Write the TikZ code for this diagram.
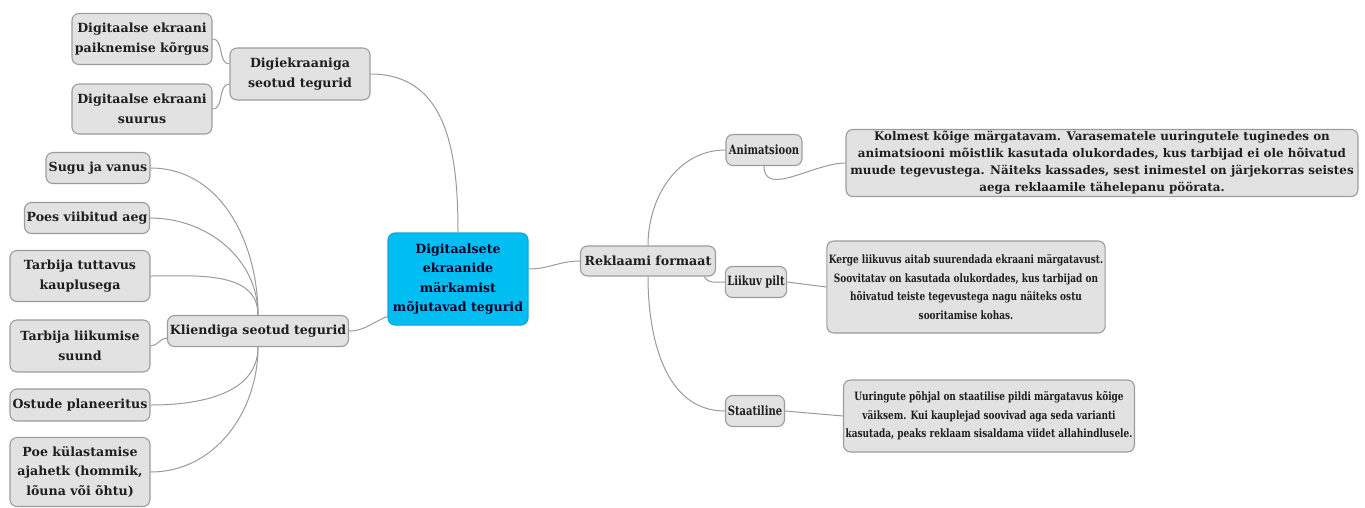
\documentclass[tikz,border=0pt]{standalone}
\usepackage{fontspec}
\setmainfont{DejaVu Serif}
\newfontfamily\narrowfont{DejaVu Serif}[FakeStretch=0.78]
\usetikzlibrary{backgrounds}
\definecolor{boxfill}{HTML}{E2E2E2}
\definecolor{boxline}{HTML}{9C9C9C}
\definecolor{rootfill}{HTML}{00BEF2}
\definecolor{rootline}{HTML}{12A6D6}
\definecolor{inkdark}{HTML}{1E1E1E}
\definecolor{linkgray}{HTML}{9A9A9A}
\tikzset{
  box/.style={draw=boxline,fill=boxfill,rounded corners=7pt,line width=1.1pt,
    align=center,inner sep=2pt,text=inkdark,
    font=\bfseries\fontsize{12.6}{19.5}\selectfont},
  rootbox/.style={box,draw=rootline,fill=rootfill,text=black!85!blue},
  smallbox/.style={box,font=\narrowfont\bfseries\fontsize{12.8}{19}\selectfont},
  notebox/.style={box,font=\narrowfont\bfseries\fontsize{11.5}{18.5}\selectfont},
  widenote/.style={box,font=\bfseries\fontsize{11.9}{17}\selectfont},
  link/.style={draw=linkgray,line width=1pt}
}

\begin{document}
\begin{tikzpicture}[x=1pt,y=-1pt]
\useasboundingbox (0,0) rectangle (1365,507);
% centre
\node [rootbox,minimum width=140,minimum height=92] at (458,279) (root)
  {Digitaalsete\\ekraanide\\märkamist\\mõjutavad tegurid};
% screen factors
\node [box,minimum width=140,minimum height=52] at (300,74) (digi) {Digiekraaniga\\seotud tegurid};
\node [box,minimum width=140,minimum height=51] at (142,39) (paik) {Digitaalse ekraani\\paiknemise kõrgus};
\node [box,minimum width=140,minimum height=50] at (142,109) (suurus) {Digitaalse ekraani\\suurus};
% customer factors
\node [box,minimum width=181,minimum height=31] at (258,331) (klient) {Kliendiga seotud tegurid};
\node [box,minimum width=104,minimum height=31] at (98,168) (sugu) {Sugu ja vanus};
\node [box,minimum width=125,minimum height=31] at (87,218) (poes) {Poes viibitud aeg};
\node [box,minimum width=140,minimum height=51] at (80,276) (tuttav) {Tarbija tuttavus\\kauplusega};
\node [box,minimum width=140,minimum height=52] at (80,346) (liikum) {Tarbija liikumise\\suund};
\node [box,minimum width=140,minimum height=32] at (80,405) (plan) {Ostude planeeritus};
\node [box,minimum width=140,minimum height=69] at (80,472) (aeg) {Poe külastamise\\ajahetk (hommik,\\lõuna või õhtu)};
% ad format
\node [box,minimum width=135,minimum height=30] at (648,261) (rek) {Reklaami formaat};
\node [smallbox,minimum width=76,minimum height=31] at (764,150) (anim) {Animatsioon};
\node [smallbox,minimum width=61,minimum height=31] at (756,282) (liik) {Liikuv pilt};
\node [smallbox,minimum width=59,minimum height=31] at (755,411) (staat) {Staatiline};
\node [widenote,minimum width=512,minimum height=64] at (1102,163) (animtxt)
  {Kolmest kõige märgatavam. Varasematele uuringutele tuginedes on\\
   animatsiooni mõistlik kasutada olukordades, kus tarbijad ei ole hõivatud\\
   muude tegevustega. Näiteks kassades, sest inimestel on järjekorras seistes\\
   aega reklaamile tähelepanu pöörata.};
\node [notebox,minimum width=272,minimum height=92] at (966,287) (liiktxt)
  {Kerge liikuvus aitab suurendada ekraani märgatavust.\\
   Soovitatav on kasutada olukordades, kus tarbijad on\\
   hõivatud teiste tegevustega nagu näiteks ostu\\
   sooritamise kohas.};
\node [notebox,minimum width=288,minimum height=72] at (989,416) (staattxt)
  {Uuringute põhjal on staatilise pildi märgatavus kõige\\
   väiksem. Kui kauplejad soovivad aga seda varianti\\
   kasutada, peaks reklaam sisaldama viidet allahindlusele.};
%
\begin{scope}[on background layer]
\path[link] (root.north) edge [out=90,in=0,looseness=1.1] (digi.east);
\path[link] ([yshift=10pt]digi.west) edge [out=180,in=0] (paik.east);
\path[link] ([yshift=-10pt]digi.west) edge [out=180,in=0] (suurus.east);
\path[link] ([yshift=9pt]root.south west) edge [out=200,in=0] (klient.east);
\path[link] (klient.north) edge [out=90,in=0] (sugu.east);
\path[link] (klient.north) edge [out=90,in=0] (poes.east);
\path[link] (klient.north) edge [out=90,in=0] (tuttav.east);
\path[link] ([yshift=-7pt]klient.west) edge [out=180,in=0] (liikum.east);
\path[link] (klient.south) edge [out=-90,in=0] (plan.east);
\path[link] (klient.south) edge [out=-90,in=0] (aeg.east);
\path[link] ([yshift=10pt]root.east) edge [out=0,in=180] (rek.west);
\path[link] (rek.north) edge [out=90,in=180] (anim.west);
\path[link] ([xshift=-12pt]rek.south east) edge [out=-60,in=180] (liik.west);
\path[link] (rek.south) edge [out=-90,in=180] (staat.west);
\path[link] (anim.south) edge [out=-90,in=180] (animtxt.west);
\path[link] (liik.east) edge (liiktxt.west);
\path[link] (staat.east) edge (staattxt.west);
\end{scope}
\end{tikzpicture}
\end{document}
